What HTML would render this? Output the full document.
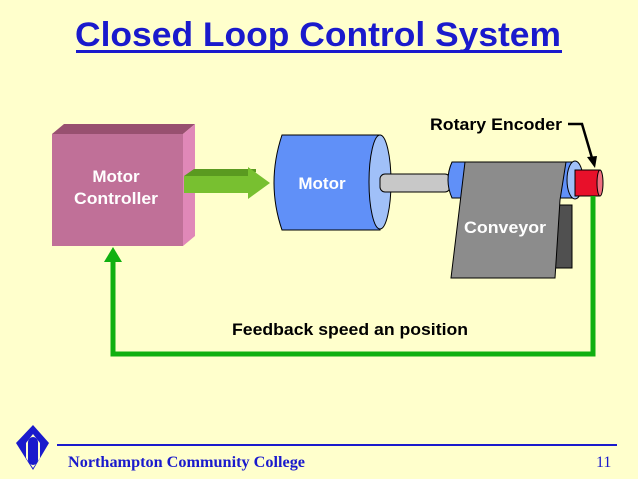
<!DOCTYPE html><html><head><style>body{margin:0;background:#FFFFCC}svg{display:block}</style></head><body>
<svg width="638" height="479" xmlns="http://www.w3.org/2000/svg">
<rect width="638" height="479" fill="#FFFFCC"/>
<text x="318" y="46" text-anchor="middle" font-family="Liberation Sans" font-weight="bold" font-size="34" textLength="486" lengthAdjust="spacingAndGlyphs" fill="#1A1ACC">Closed Loop Control System</text>
<rect x="76" y="50" width="486" height="3" fill="#1A1ACC"/>
<!-- controller -->
<polygon points="52,134 64,124 195,124 183,134" fill="#985070"/>
<polygon points="183,134 195,124 195,236 183,246" fill="#E088B8"/>
<rect x="52" y="134" width="131" height="112" fill="#C07098"/>
<g font-family="Liberation Sans" font-weight="bold" font-size="17" fill="#fff" text-anchor="middle">
<text x="116" y="182">Motor</text><text x="116" y="204" textLength="84" lengthAdjust="spacingAndGlyphs">Controller</text></g>
<!-- green arrow -->
<polygon points="184,176 194,169 256,169 256,172 248,176" fill="#5A9A20"/>
<polygon points="184,176 248,176 248,167 270,183 248,199 248,193 184,193" fill="#78C030"/>
<!-- motor -->
<path d="M282,135 L380,135 L380,230 L282,230 Q266,183 282,135Z" fill="#6090F8" stroke="#000" stroke-width="1"/>
<ellipse cx="380" cy="182" rx="11" ry="47" fill="#A0C0F8" stroke="#000"/>
<text x="322" y="189" text-anchor="middle" font-family="Liberation Sans" font-weight="bold" font-size="17" fill="#fff">Motor</text>
<rect x="380" y="174" width="70" height="18" rx="5" fill="#C8C8C8" stroke="#000"/>
<!-- conveyor -->
<rect x="555" y="205" width="17" height="63" fill="#505050" stroke="#000"/>
<path d="M452,162 L575,162 L575,198 L452,198 Q444,180 452,162Z" fill="#6090F8" stroke="#000"/>
<polygon points="465,162 566,162 560,200 555,278 451,278" fill="#8C8C8C" stroke="#000"/>
<text x="505" y="233" text-anchor="middle" font-family="Liberation Sans" font-weight="bold" font-size="17" textLength="82" lengthAdjust="spacingAndGlyphs" fill="#fff">Conveyor</text>
<ellipse cx="575" cy="180" rx="8" ry="19" fill="#A0C0F8" stroke="#000"/>
<rect x="575" y="170" width="25" height="26" fill="#E8102A" stroke="#000"/>
<ellipse cx="600" cy="183" rx="3" ry="13" fill="#F07080" stroke="#000"/>
<text x="496" y="130" text-anchor="middle" font-family="Liberation Sans" font-weight="bold" font-size="17" textLength="132" lengthAdjust="spacingAndGlyphs" fill="#000">Rotary Encoder</text>
<polyline points="568,124 582,124 592,158" fill="none" stroke="#000" stroke-width="2.5"/>
<polygon points="587,157 597,156 595,168" fill="#000"/>
<!-- feedback -->
<polyline points="593,196 593,354 113,354 113,258" fill="none" stroke="#10B010" stroke-width="5"/>
<polygon points="104,262 122,262 113,247" fill="#10B010"/>
<text x="350" y="335" text-anchor="middle" font-family="Liberation Sans" font-weight="bold" font-size="17" textLength="236" lengthAdjust="spacingAndGlyphs" fill="#000">Feedback speed an position</text>
<!-- footer -->
<rect x="57" y="444" width="560" height="2" fill="#1A1ACC"/>
<text x="68" y="467" font-family="Liberation Serif" font-weight="bold" font-size="16" textLength="237" lengthAdjust="spacingAndGlyphs" fill="#1A1ACC">Northampton Community College</text>
<text x="596" y="467" font-family="Liberation Serif" font-size="16" fill="#1A1ACC">11</text>
<polygon points="33,425 49,443 40,443 33,434 26,443 16,443" fill="#1A1ACC"/>
<path d="M16,443 L26,443 L26,458 L33,468 L40,458 L40,443 L49,443 L33,470Z" fill="#1A1ACC"/>
<rect x="28" y="437" width="10" height="28" rx="5" fill="#1A1ACC"/>
</svg></body></html>
